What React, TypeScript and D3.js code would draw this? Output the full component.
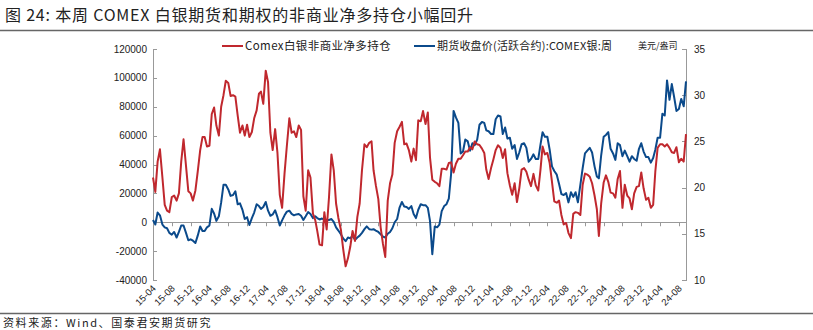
import React from "react";
import * as d3 from "d3";

// Semi-monthly samples (1st and 16th of each month) starting 2015-04-01
const netLong: number[] = [
  31000, 21000, 42000, 50500, 31000, 12000, 8000, 7000, 17500, 18500,
  15000, 20000, 42000, 57500, 39000, 21500, 20000, 15000, 22000, 35000,
  50000, 59000, 59000, 52500, 53000, 75000, 79500, 67000, 60000, 80000,
  88000, 98000, 96500, 87500, 88000, 87000, 74000, 62000, 67000, 60000,
  67500, 59000, 62500, 72000, 77500, 89000, 90500, 82000, 105000, 97000,
  62000, 50000, 64500, 48000, 19000, 10000, 34000, 53000, 72000, 62000,
  63000, 59000, 67000, 64000, 18000, 8000, 36000, 31000, 6000, 1500,
  -6000, -15500, -16000, 7000, -5000, 17000, 47000, 36000, 13000, 3000,
  -5000, -18500, -30500, -25000, -17000, -6000, -13000, 3700, 13000, 36000,
  54000, 52000, 55000, 56000, 36000, 25500, 16000, -3500, -15000, -24000,
  15000, 27000, 33000, 55000, 63000, 66000, 69500, 54000, 54500, 50000,
  42000, 51000, 43000, 70600, 70000, 77000, 68000, 76000, 45000, 29500,
  28000, 27000, 25000, 37000, 37000, 36500, 41000, 41500, 34500, 40500,
  44000, 44000, 46400, 49000, 49000, 52000, 50500, 56000, 54000, 53500,
  51000, 48000, 36500, 30000, 37500, 43500, 50000, 53300, 51500, 44500,
  50500, 34000, 25500, 19000, 27000, 14000, 23500, 36500, 37500, 35000,
  29500, 25000, 33500, 25500, 22000, 37000, 52500, 47000, 48000, 41000,
  28000, 14500, 13500, 15000, 5000, -1500, -500, -7500, -11000, 5800,
  7000, 6500, 5000, 26000, 33700, 33000, 31500, 27000, 18500, 9000,
  -9500, 13000, 27500, 32500, 28000, 20500, 20000, 17000, 30000, 35500,
  10000, 26000, 18500, 16500, 9000, 20000, 24500, 25000, 34500, 23500,
  15500, 17000, 10000, 12000, 35000, 51500, 54000, 54000, 52500, 54000,
  51500, 48500, 48000, 52000, 41500, 44000, 42000, 61000,
];

const silverPrice: number[] = [
  16.5, 16.0, 17.3, 17.0, 16.0, 15.7, 15.6, 15.1, 14.9, 15.2,
  14.6, 15.2, 15.9, 15.9, 15.1, 14.3, 14.4, 14.25, 14.0, 14.8,
  15.8, 15.3, 15.3, 15.7, 15.9, 17.7, 17.2, 16.4, 16.9, 18.4,
  20.3, 20.3, 19.8, 19.1, 19.2, 19.6, 18.2, 18.3, 17.6, 16.6,
  16.8, 15.95, 16.7, 17.3, 18.2, 18.0, 17.7, 17.9, 18.45, 17.5,
  16.95, 17.1, 17.55, 16.8, 15.9, 16.45, 17.0, 17.4, 17.5, 17.15,
  17.0, 17.1, 17.15, 16.95, 16.5, 16.9, 17.35, 17.15, 16.7, 16.9,
  16.7, 16.55, 16.65, 16.55, 16.5, 16.5, 16.6, 16.3, 15.7, 15.35,
  14.95, 14.5, 14.2, 14.6, 14.5, 14.8, 14.35, 14.6, 14.8, 15.1,
  15.5, 15.8, 15.5, 15.45, 15.5, 15.35, 15.2, 14.95, 14.7, 14.6,
  15.0, 15.2, 15.6, 16.25, 16.6, 17.8, 18.45, 17.95, 17.9, 17.7,
  18.0, 17.15, 16.7, 17.6, 18.2, 18.1, 18.1, 17.8, 16.4, 12.8,
  15.8, 15.7, 16.0, 17.45, 18.0, 18.2, 18.8, 21.5, 28.3, 27.6,
  27.0, 23.7, 23.9, 25.2, 25.0, 24.0, 24.8, 24.6, 25.2, 26.8,
  27.1, 27.0, 26.2, 26.1, 25.8, 25.8, 27.4, 27.8, 27.7, 25.8,
  26.5, 25.3, 25.4, 24.2, 24.6, 23.1, 23.8, 24.7, 24.8, 24.3,
  22.8, 23.1, 23.6, 23.1, 23.1, 24.7, 26.0, 25.5, 25.5, 24.1,
  22.3, 21.8, 21.4, 20.4, 19.3, 19.2, 19.4, 18.4, 19.5, 19.0,
  19.5, 18.4, 20.3, 22.1, 23.7, 24.0, 24.3, 23.8, 22.3, 21.2,
  21.0, 23.5, 25.5, 25.7, 26.0, 24.2, 23.7, 23.0, 24.8, 24.6,
  23.4, 24.0, 23.4, 22.8, 23.4, 23.1, 22.9, 24.2, 24.8, 23.9,
  23.3, 23.3, 22.7, 23.2, 24.1, 25.4, 25.4, 28.0, 27.8, 31.6,
  29.5, 31.2, 29.8, 28.3, 28.5, 29.6, 28.8, 31.5,
];

const xTickLabels: string[] = [
  "15-04", "15-08", "15-12", "16-04", "16-08", "16-12", "17-04", "17-08",
  "17-12", "18-04", "18-08", "18-12", "19-04", "19-08", "19-12", "20-04",
  "20-08", "20-12", "21-04", "21-08", "21-12", "22-04", "22-08", "22-12",
  "23-04", "23-08", "23-12", "24-04", "24-08",
];
const leftTicks: number[] = [120000, 100000, 80000, 60000, 40000, 20000, 0, -20000, -40000];
const rightTicks: number[] = [35, 30, 25, 20, 15, 10];

const TITLE = "图 24: 本周 COMEX 白银期货和期权的非商业净多持仓小幅回升";
const SOURCE = "资料来源：Wind、国泰君安期货研究";
const LEGEND_RED = "Comex白银非商业净多持仓";
const LEGEND_BLUE = "期货收盘价(活跃合约):COMEX银:周";
const UNIT = "美元/盎司";

const RED = "#C0282E";
const BLUE = "#0B4A8B";
const AXIS = "#999999";

const dateOf = (i: number) => new Date(2015, 3 + Math.floor(i / 2), i % 2 ? 16 : 1);
const parseTick = (s: string) => new Date(2000 + +s.slice(0, 2), +s.slice(3) - 1, 1);

export default function App() {
  const W = 813, H = 330;
  const left = 153, right = 686, top = 49, bottom = 280;
  const n = netLong.length;
  const x = d3.scaleTime().domain([dateOf(0), dateOf(n - 1)]).range([left, right]);
  const yL = d3.scaleLinear().domain([-40000, 120000]).range([bottom, top]);
  const yR = d3.scaleLinear().domain([10, 35]).range([bottom, top]);

  const redLine = d3.line<number>().x((_, i) => x(dateOf(i))).y((v) => yL(v));
  const blueLine = d3.line<number>().x((_, i) => x(dateOf(i))).y((v) => yR(v));
  const zeroY = yL(0);
  const font = "'Liberation Sans', Arial, sans-serif";
  const cjk = "'Noto Sans CJK SC', 'Noto Sans', sans-serif";

  return (
    <svg width={W} height={H} style={{ position: "absolute", left: 0, top: 0, background: "#fff" }}>
      <rect width={W} height={H} fill="#fff" />
      <text x={5} y={21} fontFamily={cjk} fontSize={16} letterSpacing={0.8} fill="#222">{TITLE}</text>
      <line x1={0} x2={W} y1={30.5} y2={30.5} stroke="#666" strokeWidth={1.5} />

      {/* left axis */}
      <line x1={left + 0.5} x2={left + 0.5} y1={top} y2={bottom} stroke={AXIS} />
      {leftTicks.map((t) => (
        <g key={"l" + t}>
          <line x1={left} x2={left + 4} y1={Math.round(yL(t)) + 0.5} y2={Math.round(yL(t)) + 0.5} stroke={AXIS} />
          <text x={left - 6} y={yL(t) + 3.5} textAnchor="end" fontFamily={font} fontSize={10} fill="#222">{t}</text>
        </g>
      ))}
      {/* right axis */}
      <line x1={right + 0.5} x2={right + 0.5} y1={top} y2={bottom} stroke={AXIS} />
      {rightTicks.map((t) => (
        <g key={"r" + t}>
          <line x1={right - 4} x2={right + 1} y1={Math.round(yR(t)) + 0.5} y2={Math.round(yR(t)) + 0.5} stroke={AXIS} />
          <text x={right + 8} y={yR(t) + 3.5} textAnchor="start" fontFamily={font} fontSize={10} fill="#222">{t}</text>
        </g>
      ))}
      {/* x axis at zero */}
      <line x1={left} x2={right} y1={Math.round(zeroY) + 0.5} y2={Math.round(zeroY) + 0.5} stroke={AXIS} />
      {xTickLabels.map((s) => {
        const tx = Math.round(x(parseTick(s))) + 0.5;
        return (
          <g key={s}>
            <line x1={tx} x2={tx} y1={zeroY} y2={zeroY + 4} stroke={AXIS} />
            <text transform={`translate(${tx + 3},${bottom + 9}) rotate(-45)`} textAnchor="end" fontFamily={font} fontSize={9.5} fill="#222">{s}</text>
          </g>
        );
      })}

      <path d={blueLine(silverPrice) || ""} fill="none" stroke={BLUE} strokeWidth={2} strokeLinejoin="round" />
      <path d={redLine(netLong) || ""} fill="none" stroke={RED} strokeWidth={2} strokeLinejoin="round" />

      {/* legend */}
      <line x1={222} x2={243} y1={46} y2={46} stroke={RED} strokeWidth={2} />
      <text x={245} y={50} fontFamily={cjk} fontSize={11.5} letterSpacing={0.4} fill="#222">{LEGEND_RED}</text>
      <line x1={414} x2={435} y1={46} y2={46} stroke={BLUE} strokeWidth={2} />
      <text x={437} y={50} fontFamily={cjk} fontSize={11} letterSpacing={0.2} fill="#222">{LEGEND_BLUE}</text>
      <text x={638} y={49} fontFamily={cjk} fontSize={9} fill="#222">{UNIT}</text>

      <line x1={0} x2={W} y1={313.5} y2={313.5} stroke="#666" strokeWidth={1.5} />
      <text x={3} y={327} fontFamily={cjk} fontSize={11} letterSpacing={1.6} fill="#222">{SOURCE}</text>
    </svg>
  );
}
